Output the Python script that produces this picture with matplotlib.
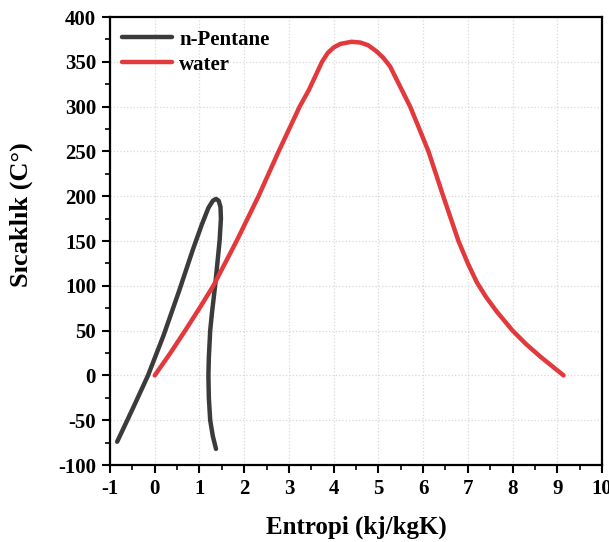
import matplotlib
matplotlib.use('Agg')
import matplotlib.pyplot as plt
from matplotlib.ticker import MultipleLocator

plt.rcParams['font.family'] = 'Liberation Serif'
plt.rcParams['font.weight'] = 'bold'
plt.rcParams['axes.unicode_minus'] = False

# n-Pentane doyma eğrisi (sol dal yukarı, sağ dal aşağı)
pentane_s = [-0.84, -0.5, -0.15, 0.2, 0.55, 0.85, 1.05, 1.2, 1.3, 1.37,
             1.43, 1.47, 1.48, 1.45, 1.40, 1.35, 1.28, 1.24, 1.21, 1.20,
             1.21, 1.24, 1.30, 1.37]
pentane_t = [-74, -38, 0, 45, 95, 140, 168, 187, 195, 197,
             195, 188, 175, 150, 125, 100, 70, 50, 20, 0,
             -25, -50, -68, -82]

# su doyma eğrisi
water_s = [0.0, 0.35, 0.68, 1.0, 1.31, 1.83, 2.32, 2.77, 3.24, 3.44,
           3.6, 3.74, 3.87, 4.0, 4.15, 4.4, 4.6, 4.77, 4.95, 5.1,
           5.26, 5.45, 5.71, 5.9, 6.12, 6.45, 6.79, 7.0, 7.2, 7.4,
           7.65, 8.0, 8.3, 8.62, 9.14]
water_t = [0, 25, 50, 75, 100, 150, 200, 250, 300, 318,
           335, 350, 360, 366, 370, 372.4, 371.5, 368.5, 362, 355,
           345, 326, 300, 277, 250, 200, 150, 125, 104, 88,
           71, 50, 35, 21, 0]

fig = plt.figure(figsize=(6.09, 5.42), dpi=100)
ax = fig.add_axes([0.1806, 0.142, 0.808, 0.8266])

ax.plot(pentane_s, pentane_t, color='#3b3b3b', lw=3.2, label='n-Pentane',
        solid_capstyle='round', solid_joinstyle='round')
ax.plot(water_s, water_t, color='#e2393c', lw=3.2, label='water',
        solid_capstyle='round', solid_joinstyle='round')

ax.set_xlim(-1, 10)
ax.set_ylim(-100, 400)
ax.xaxis.set_major_locator(MultipleLocator(1))
ax.xaxis.set_minor_locator(MultipleLocator(0.5))
ax.yaxis.set_major_locator(MultipleLocator(50))
ax.yaxis.set_minor_locator(MultipleLocator(25))
ax.tick_params(which='major', direction='out', length=6, width=1.5, labelsize=15, pad=4)
ax.tick_params(which='minor', direction='out', length=3.5, width=1.2)
for sp in ax.spines.values():
    sp.set_linewidth(1.6)

ax.grid(True, which='major', linestyle=':', color='#d8d8d8', lw=0.9)

ax.set_xlabel('Entropi (kj/kgK)', fontsize=18, fontweight='bold', labelpad=12)
ax.set_ylabel('Sıcaklık (C°)', fontsize=19, fontweight='bold')
ax.yaxis.set_label_coords(-0.156, 0.56)

ax.legend(loc='upper left', frameon=False, handlelength=2.4,
          handletextpad=0.33, labelspacing=0.25, borderaxespad=0.15, borderpad=0.45,
          prop={'weight': 'bold', 'size': 15})

fig.savefig('out.png', dpi=100)
